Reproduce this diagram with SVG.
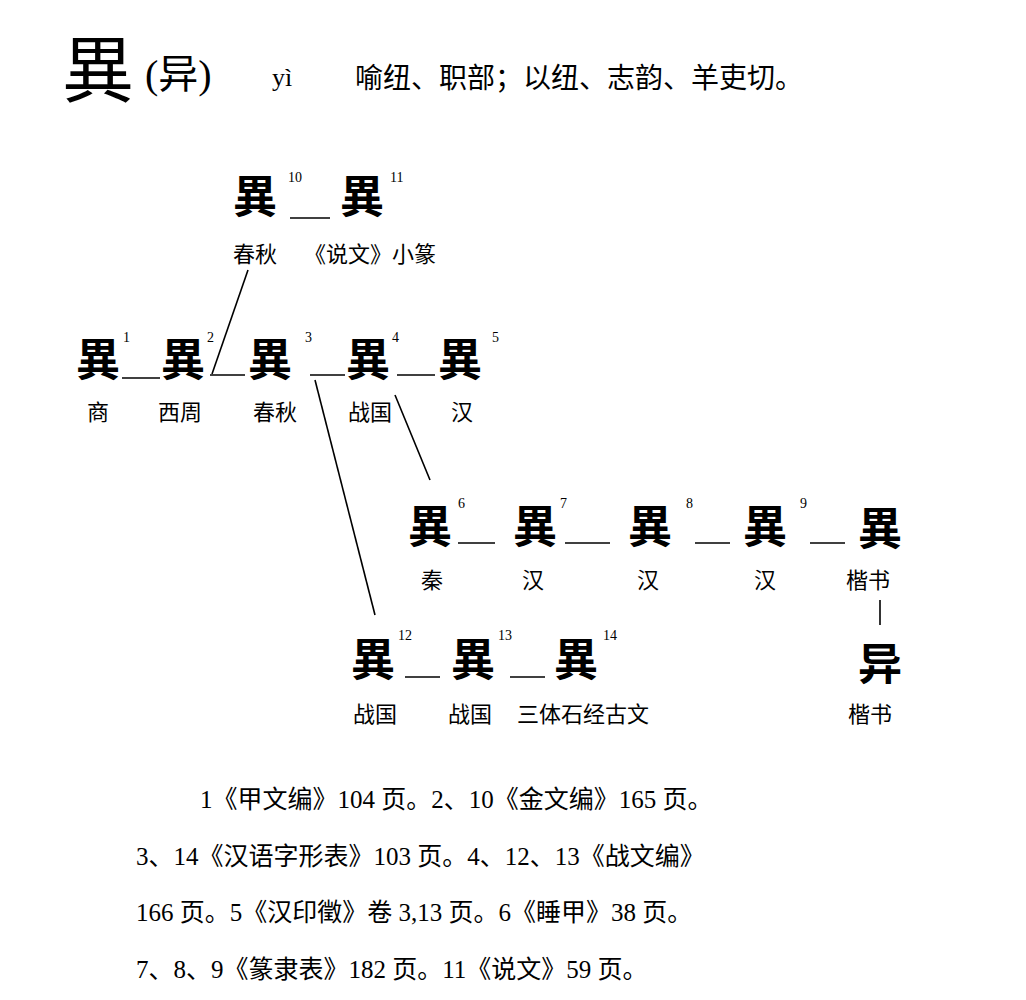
<svg xmlns="http://www.w3.org/2000/svg" width="1026" height="1000" viewBox="0 0 1026 1000">
<style>
text{font-family:"Liberation Serif","Noto Sans CJK SC",serif;fill:#000}
.g{font-size:44px;font-weight:bold;text-anchor:middle}
.l{font-size:22px;text-anchor:middle}
.n{font-size:14px}
.f{font-size:25px}
#conn line{stroke:#000;stroke-width:1.6}
</style>
<rect width="1026" height="1000" fill="#fff"/>
<g id="title">
<text x="62" y="96" font-size="72">異</text>
<text x="145" y="88" font-size="40">(异)</text>
<text x="272" y="86" font-size="26" font-family="Liberation Sans,sans-serif">yì</text>
<text x="355" y="88" font-size="28">喻纽、职部；以纽、志韵、羊吏切。</text>
</g>
<g id="conn">
<line x1="290" y1="218" x2="330" y2="218"/>
<line x1="248" y1="270" x2="212" y2="374"/>
<line x1="122" y1="378" x2="160" y2="378"/>
<line x1="210" y1="375" x2="245" y2="375"/>
<line x1="310" y1="375" x2="345" y2="375"/>
<line x1="397" y1="375" x2="435" y2="375"/>
<line x1="315" y1="380" x2="375" y2="615"/>
<line x1="395" y1="395" x2="430" y2="480"/>
<line x1="458" y1="543" x2="495" y2="543"/>
<line x1="565" y1="543" x2="610" y2="543"/>
<line x1="695" y1="543" x2="730" y2="543"/>
<line x1="810" y1="543" x2="845" y2="543"/>
<line x1="880" y1="600" x2="880" y2="625"/>
<line x1="405" y1="677" x2="440" y2="677"/>
<line x1="510" y1="677" x2="545" y2="677"/>
</g>
<g id="n10"><text class="g" x="255" y="213">異</text><text class="n" x="288" y="182">10</text><text class="l" x="255" y="262">春秋</text></g>
<g id="n11"><text class="g" x="362" y="213">異</text><text class="n" x="390" y="182">11</text><text class="l" x="370" y="262">《说文》小篆</text></g>
<g id="n1"><text class="g" x="98" y="376">異</text><text class="n" x="123" y="342">1</text><text class="l" x="98" y="420">商</text></g>
<g id="n2"><text class="g" x="183" y="376">異</text><text class="n" x="207" y="342">2</text><text class="l" x="180" y="420">西周</text></g>
<g id="n3"><text class="g" x="270" y="376">異</text><text class="n" x="305" y="342">3</text><text class="l" x="275" y="420">春秋</text></g>
<g id="n4"><text class="g" x="368" y="376">異</text><text class="n" x="392" y="342">4</text><text class="l" x="370" y="420">战国</text></g>
<g id="n5"><text class="g" x="460" y="376">異</text><text class="n" x="492" y="342">5</text><text class="l" x="462" y="420">汉</text></g>
<g id="n6"><text class="g" x="430" y="543">異</text><text class="n" x="458" y="508">6</text><text class="l" x="432" y="588">秦</text></g>
<g id="n7"><text class="g" x="535" y="543">異</text><text class="n" x="560" y="508">7</text><text class="l" x="533" y="588">汉</text></g>
<g id="n8"><text class="g" x="650" y="543">異</text><text class="n" x="686" y="508">8</text><text class="l" x="648" y="588">汉</text></g>
<g id="n9"><text class="g" x="765" y="543">異</text><text class="n" x="800" y="508">9</text><text class="l" x="765" y="588">汉</text></g>
<g id="k1"><text class="g" x="880" y="545" font-weight="normal" font-size="48">異</text><text class="l" x="868" y="588">楷书</text></g>
<g id="k2"><text class="g" x="880" y="680" font-weight="normal" font-size="48">异</text><text class="l" x="870" y="722">楷书</text></g>
<g id="n12"><text class="g" x="373" y="676">異</text><text class="n" x="398" y="640">12</text><text class="l" x="375" y="722">战国</text></g>
<g id="n13"><text class="g" x="473" y="676">異</text><text class="n" x="498" y="640">13</text><text class="l" x="470" y="722">战国</text></g>
<g id="n14"><text class="g" x="576" y="676">異</text><text class="n" x="603" y="640">14</text><text class="l" x="583" y="722">三体石经古文</text></g>
<g id="notes">
<text class="f" x="200" y="808">1《甲文编》104 页。2、10《金文编》165 页。</text>
<text class="f" x="136" y="865">3、14《汉语字形表》103 页。4、12、13《战文编》</text>
<text class="f" x="136" y="921">166 页。5《汉印徵》卷 3,13 页。6《睡甲》38 页。</text>
<text class="f" x="136" y="978">7、8、9《篆隶表》182 页。11《说文》59 页。</text>
</g>
</svg>
